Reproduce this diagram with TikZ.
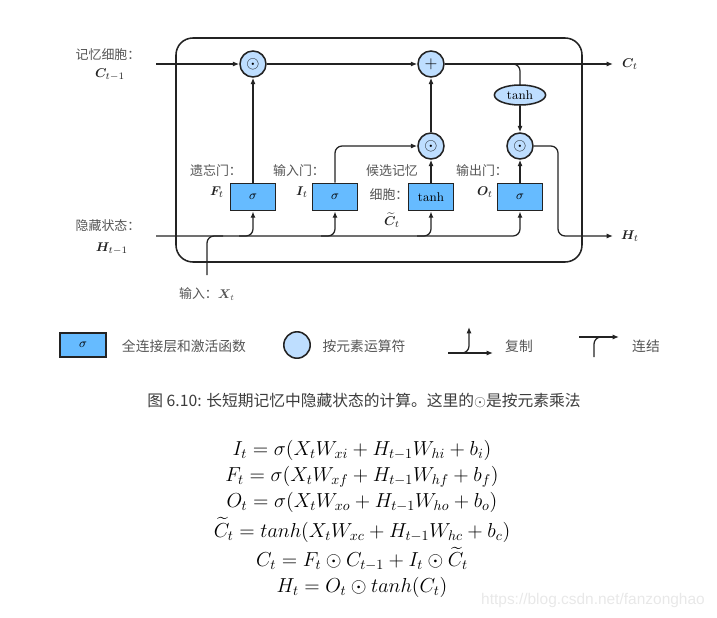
\documentclass[tikz,border=0pt]{standalone}
\usepackage{amsmath,amssymb,bm}
\usepackage{fontspec}
\newfontfamily\cjk{Noto Sans CJK SC}
\newfontfamily\wmfont{Liberation Sans}
\usetikzlibrary{arrows.meta,calc,shapes.geometric,positioning}
\definecolor{gateblue}{RGB}{102,187,255}
\definecolor{opblue}{RGB}{190,222,255}
\definecolor{wiregray}{RGB}{35,35,35}
\definecolor{labgray}{RGB}{85,85,85}
\definecolor{capgray}{RGB}{60,60,60}
\definecolor{wmgray}{RGB}{232,232,232}
\tikzset{
  wire/.style={wiregray, line width=0.9pt},
  flow/.style={wire, -{Latex[length=4.5pt,width=3.6pt]}},
  gatebox/.style={draw=wiregray, line width=1.3pt, fill=gateblue,
                  minimum width=1.125cm, minimum height=0.675cm,
                  inner sep=0pt, font=\fontsize{9}{10}\selectfont},
  opnode/.style={circle, draw=wiregray, line width=1.1pt, fill=opblue,
                 minimum size=0.65cm, inner sep=0pt,
                 font=\fontsize{13}{13}\selectfont},
  tanhnode/.style={ellipse, draw=wiregray, line width=1.1pt, fill=opblue,
                   minimum width=1.28cm, minimum height=0.5cm, inner sep=0pt,
                   font=\fontsize{9}{10}\selectfont},
  cnlab/.style={text=labgray, font=\cjk\fontsize{9.2}{10}\selectfont, inner sep=0pt},
  mathlab/.style={text=wiregray, font=\fontsize{9.5}{10}\selectfont, inner sep=0pt},
  legtext/.style={text=labgray, font=\cjk\fontsize{9.8}{11}\selectfont, inner sep=0pt},
}

\begin{document}
\begin{tikzpicture}[x=0.025cm,y=-0.025cm]
  \path[use as bounding box] (0,0) rectangle (717,618);

  \draw[wire, line width=1.1pt, rounded corners=12pt] (176,38) rectangle (582,262);

  \coordinate (cin) at (156,64);
  \coordinate (cout) at (613,64);
  \coordinate (hin) at (156,236);
  \coordinate (hout) at (613,236);
  \coordinate (xin) at (207,275);

  \node[opnode] (fmul) at (253,64) {$\odot$};
  \node[opnode] (add) at (431,64) {$+$};
  \node[opnode] (imul) at (431,146) {$\odot$};
  \node[opnode] (omul) at (520,146) {$\odot$};
  \node[tanhnode] (tanhop) at (520,95) {tanh};

  \node[gatebox] (fgate) at (253,197) {$\sigma$};
  \node[gatebox] (igate) at (335,197) {$\sigma$};
  \node[gatebox] (cgate) at (431,197) {tanh};
  \node[gatebox] (ogate) at (520,197) {$\sigma$};

  \node[cnlab] (cinlab) at (108,55) {记忆细胞：};
  \node[mathlab] (cinsym) at (110,75) {$\bm{C}_{t-1}$};
  \node[cnlab] (hinlab) at (108,226) {隐藏状态：};
  \node[mathlab] (hinsym) at (112,249) {$\bm{H}_{t-1}$};
  \node[mathlab] (coutsym) at (630,64) {$\bm{C}_t$};
  \node[mathlab] (houtsym) at (630,236) {$\bm{H}_t$};
  \node[cnlab] (xinlab) at (207,294) {输入：\normalfont$\bm{X}_t$};

  \node[cnlab] (flab) at (216,171) {遗忘门：};
  \node[mathlab] (fsym) at (217,192) {$\bm{F}_t$};
  \node[cnlab] (ilab) at (299,171) {输入门：};
  \node[mathlab] (isym) at (302,192) {$\bm{I}_t$};
  \node[cnlab] (clab) at (392,171) {候选记忆};
  \node[cnlab] (clab2) at (389,195) {细胞：};
  \node[mathlab] (csym) at (392,220) {$\widetilde{\bm{C}}_t$};
  \node[cnlab] (olab) at (482,171) {输出门：};
  \node[mathlab] (osym) at (485,192) {$\bm{O}_t$};

  \draw[flow] (cin) -- (fmul);
  \draw[flow] (fmul) -- (add);
  \draw[flow] (add) -- (cout);
  \draw[wire, rounded corners=5pt] (add.east) -| (tanhop.north);
  \draw[flow] (tanhop) -- (omul);
  \draw[flow, rounded corners=5pt] (omul.east) -| ($(hout)+(-55,0)$) -- (hout);
  \draw[flow] (fgate) -- (fmul);
  \draw[flow, rounded corners=5pt] (igate.north) |- (imul.west);
  \draw[flow] (cgate) -- (imul);
  \draw[flow] (imul) -- (add);
  \draw[flow] (ogate) -- (omul);

  \draw[flow, rounded corners=5pt] (hin) -| (ogate.south);
  \foreach \g in {fgate,igate,cgate}
    \draw[flow, rounded corners=5pt] ($(\g.south |- hin)+(-14,0)$) -| (\g.south);
  \draw[wire, rounded corners=5pt] (xin) |- ($(xin |- hin)+(16,0)$);

  \node[gatebox, minimum width=1.15cm, minimum height=0.6cm] (leggate) at (83,345) {$\sigma$};
  \node[legtext] (legfc) at (184,346) {全连接层和激活函数};
  \node[opnode, minimum size=0.66cm] (legop) at (297,345) {};
  \node[legtext] (legew) at (364,346) {按元素运算符};
  \coordinate (cpstart) at (448,353);
  \coordinate (cpend) at (493,353);
  \coordinate (cpup) at (469,327);
  \draw[flow] (cpstart) -- (cpend);
  \draw[flow, rounded corners=5pt] ($(cpup |- cpstart)+(-12,0)$) -| (cpup);
  \node[legtext] (legcopy) at (519,346) {复制};
  \coordinate (ctstart) at (579,337);
  \coordinate (ctend) at (619,337);
  \coordinate (ctdown) at (594,357);
  \draw[flow] (ctstart) -- (ctend);
  \draw[wire, rounded corners=5pt] (ctdown) |- ($(ctdown |- ctstart)+(12,0)$);
  \node[legtext] (legcat) at (646,346) {连结};

  \node[text=capgray, font=\cjk\fontsize{11.2}{13}\selectfont] (caption) at (364,400)
    {图 6.10: 长短期记忆中隐藏状态的计算。这里的\normalfont$\odot$\cjk 是按元素乘法};

  \node[align=center, font=\fontsize{14}{18.5}\selectfont] (eqs) at (362,519)
    {$I_t = \sigma(X_tW_{xi} + H_{t-1}W_{hi} + b_i)$\\
     $F_t = \sigma(X_tW_{xf} + H_{t-1}W_{hf} + b_f)$\\
     $O_t = \sigma(X_tW_{xo} + H_{t-1}W_{ho} + b_o)$\\[2.5pt]
     $\widetilde{C}_t = tanh(X_tW_{xc} + H_{t-1}W_{hc} + b_c)$\\[2.5pt]
     $C_t = F_t \odot C_{t-1} + I_t \odot \widetilde{C}_t$\\
     $H_t = O_t \odot tanh(C_t)$};

  \node[text=wmgray, font=\wmfont\fontsize{11}{12}\selectfont] (watermark) at (593,600)
    {https://blog.csdn.net/fanzonghao};
\end{tikzpicture}
\end{document}
